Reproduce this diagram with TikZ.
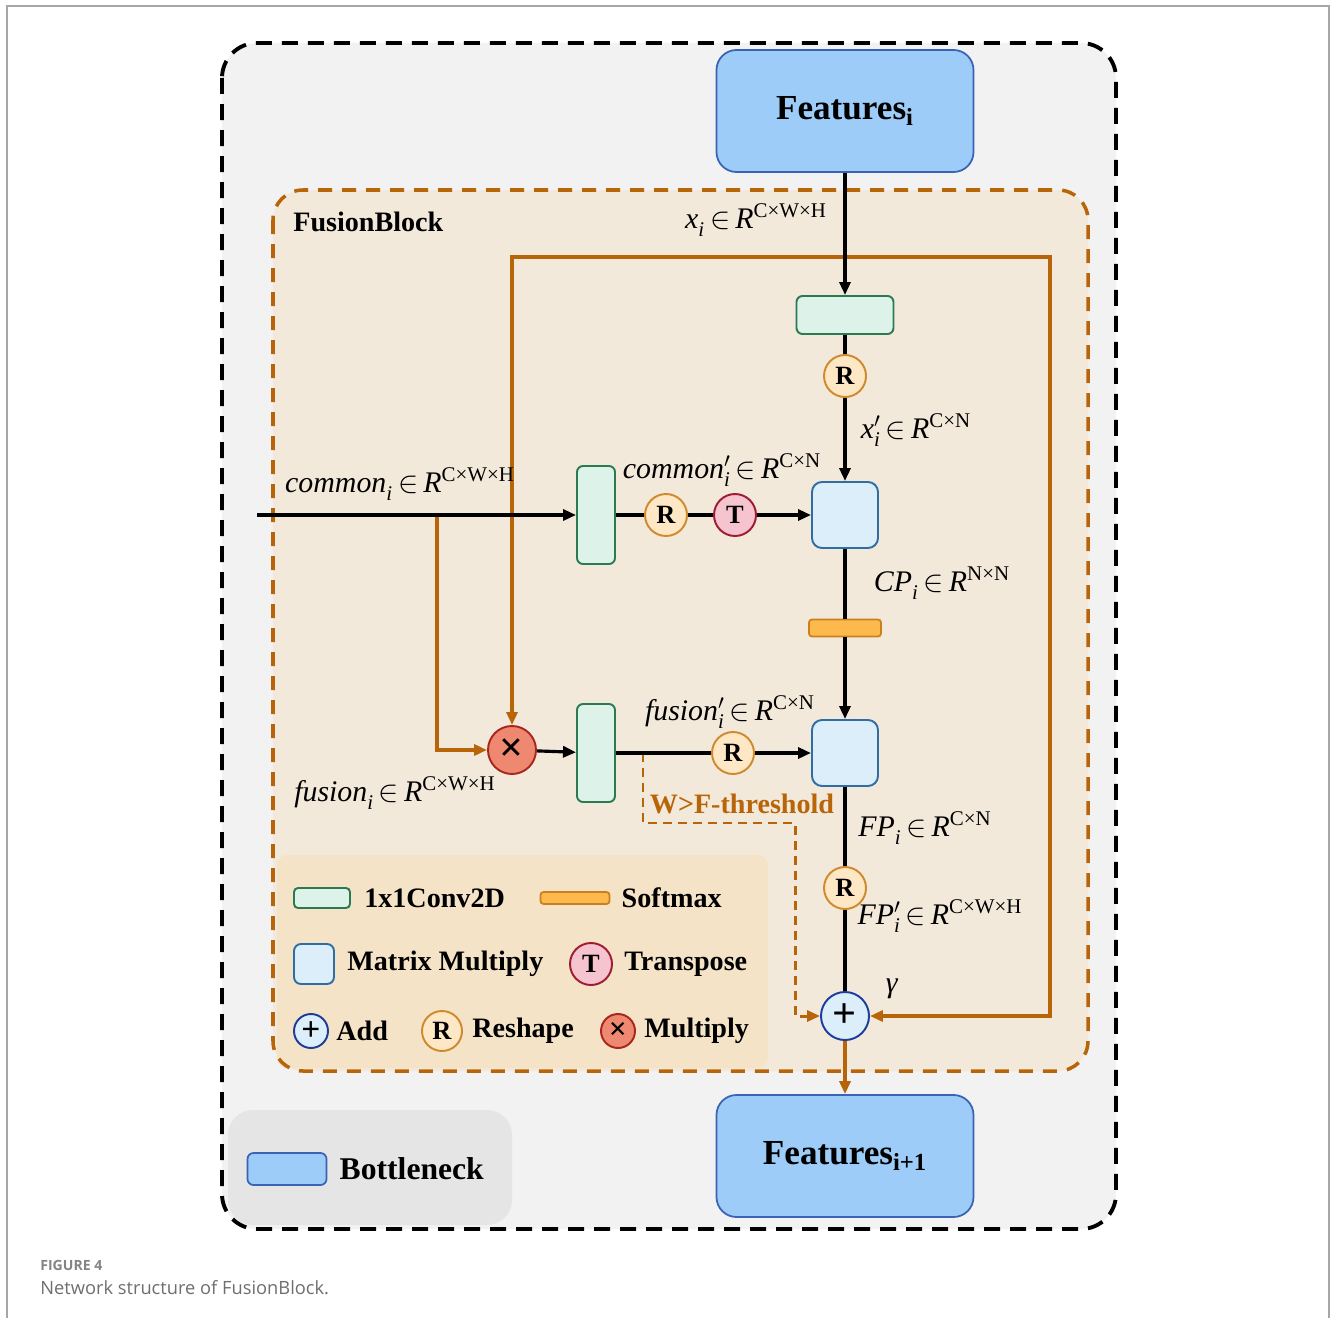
\documentclass[tikz,border=0pt]{standalone}
\usepackage{amsmath}
\usepackage{fontspec}
\setmainfont{Liberation Serif}
\newfontfamily\capfont{Open Sans}
\usepackage{tikz}
\usetikzlibrary{arrows.meta, positioning, calc}

\definecolor{fondgris}{HTML}{F2F2F2}
\definecolor{fondbloc}{HTML}{F3E9DA}
\definecolor{fondleg}{HTML}{F5E3C8}
\definecolor{lignor}{HTML}{B8650A}
\definecolor{featbl}{HTML}{9DCCF8}
\definecolor{featbd}{HTML}{3B63B5}
\definecolor{convgr}{HTML}{DDF3E9}
\definecolor{convbd}{HTML}{2B7A52}
\definecolor{mmbl}{HTML}{DCEEFA}
\definecolor{mmbd}{HTML}{2E6EA5}
\definecolor{softor}{HTML}{FDB94C}
\definecolor{softbd}{HTML}{C9801F}
\definecolor{rfill}{HTML}{FEE7C5}
\definecolor{rbd}{HTML}{CF8A2E}
\definecolor{tfill}{HTML}{F6C4CF}
\definecolor{tbd}{HTML}{9E1B32}
\definecolor{xfill}{HTML}{EE8870}
\definecolor{xbd}{HTML}{A8261B}
\definecolor{addbd}{HTML}{1B3C9C}
\definecolor{capgris}{HTML}{6E6E6E}

\newcommand{\dimlab}[3]{\textit{#1}\ensuremath{^{#2}_{\textit{i}}}\,\ensuremath{\in}\,\textit{R}\ensuremath{^{\text{#3}}}}

\begin{document}
\begin{tikzpicture}[x=0.2mm, y=-0.2mm,
  fleche/.style={line width=1.8pt, -{Triangle[length=2.6mm,width=2.2mm]}},
  trait/.style={line width=1.8pt},
  orfleche/.style={line width=2pt, draw=lignor, -{Triangle[length=2.6mm,width=2.2mm]}},
  feat/.style={draw=featbd, fill=featbl, line width=1pt, rounded corners=4mm, minimum width=51.4mm, minimum height=24.4mm, font=\bfseries\fontsize{20}{24}\selectfont},
  conv/.style={draw=convbd, fill=convgr, line width=1.1pt, rounded corners=1.2mm, inner sep=0pt},
  matmul/.style={draw=mmbd, fill=mmbl, line width=1.1pt, rounded corners=2mm, minimum size=13.2mm, inner sep=0pt},
  soft/.style={draw=softbd, fill=softor, line width=1pt, rounded corners=0.6mm, minimum width=14.4mm, minimum height=3.4mm, inner sep=0pt},
  opr/.style={circle, draw=rbd, fill=rfill, line width=1.1pt, minimum size=8.4mm, inner sep=0pt, font=\bfseries\fontsize{15}{15}\selectfont},
  opt/.style={opr, draw=tbd, fill=tfill},
  opx/.style={circle, draw=xbd, fill=xfill, line width=1.1pt, minimum size=9.6mm, inner sep=0pt, font=\bfseries\fontsize{24}{24}\selectfont},
  opadd/.style={opx, draw=addbd, fill=mmbl},
  dimtxt/.style={font=\fontsize{17}{20}\selectfont},
  lgtxt/.style={inner sep=0pt, font=\bfseries\fontsize{16}{19}\selectfont},
]
  \useasboundingbox (0,0) rectangle (1332,1318);

  % Cadre et fond général
  \draw[gray!70, line width=0.6pt] (7,1318) -- (7,6) -- (1329,6) -- (1329,1318);
  \fill[fondgris, rounded corners=7mm] (222,43) rectangle (1116,1229);
  \fill[black!10, rounded corners=5mm] (228,1110) rectangle (512,1225);
  \draw[line width=2.2pt, dash pattern=on 3.2mm off 2mm, rounded corners=7mm] (222,43) rectangle (1116,1229);

  % Bloc FusionBlock
  \fill[fondbloc, rounded corners=6mm] (273,190) rectangle (1088,1071);
  \fill[fondleg, rounded corners=2mm] (277,855) rectangle (768,1068);
  \draw[lignor, line width=2pt, dash pattern=on 2.8mm off 2mm, rounded corners=6mm] (273,190) rectangle (1088,1071);
  \node[anchor=west, inner sep=0pt, font=\bfseries\fontsize{16}{19}\selectfont] (titre) at (293,222) {FusionBlock};

  % Entrée / sortie
  \node[feat] (fi) at (845,111) {Features\textsubscript{i}};
  \node[feat] (fo) at (845,1156) {Features\textsubscript{i+1}};

  % Branche x_i
  \node[conv, minimum width=19.4mm, minimum height=7.6mm] (cvh) at (845,315) {};
  \node[opr] (rh) at (845,376) {R};
  \node[matmul] (mm1) at (845,515) {};

  % Branche common_i
  \coordinate (cin) at (257,515);
  \coordinate (jc) at (437,515);
  \node[conv, minimum width=7.6mm, minimum height=19.6mm] (cvc) at (596,515) {};
  \node[opr] (rc) at (666,515) {R};
  \node[opt] (tc) at (735,515) {T};

  % Softmax et branche fusion_i
  \node[soft] (sm) at (845,628) {};
  \node[opx] (mul) at (512,750) {×};
  \node[conv, minimum width=7.6mm, minimum height=19.6mm] (cvf) at (596,753) {};
  \node[opr] (rf) at (733,753) {R};
  \node[matmul] (mm2) at (845,753) {};
  \node[opr] (rp) at (845,888) {R};
  \node[opadd] (add) at (845,1016) {+};

  % Liaisons orange
  \coordinate (jx) at (845,257);
  \coordinate (coin) at (1050,1016);
  \coordinate (jw) at (643,753);
  \coordinate (wc) at (795,823);
  \draw[orfleche] (jx) -| (mul);
  \draw[orfleche] (jx) -| (coin) -- (add);
  \draw[orfleche] (jc) |- (mul);
  \draw[orfleche] (add) -- (fo);
  \draw[lignor, line width=1.7pt, dash pattern=on 1.8mm off 1.2mm, -{Triangle[length=2.6mm,width=2.2mm]}] (jw) |- (wc) |- (add);
  \node[text=lignor, font=\bfseries\fontsize{16}{19}\selectfont] (seuil) at (742,804) {W>F-threshold};

  % Liaisons noires
  \draw[fleche] (fi) -- (cvh);
  \draw[trait] (cvh) -- (rh);
  \draw[fleche] (rh) -- (mm1);
  \draw[fleche] (cin) -- (cvc);
  \draw[trait] (cvc) -- (rc) -- (tc);
  \draw[fleche] (tc) -- (mm1);
  \draw[trait] (mm1) -- (sm);
  \draw[fleche] (sm) -- (mm2);
  \draw[fleche] (mul) -- (cvf);
  \draw[trait] (cvf) -- (rf);
  \draw[fleche] (rf) -- (mm2);
  \draw[trait] (mm2) -- (rp) -- (add);

  % Dimensions
  \node[dimtxt] (lxi) at (756,220) {\dimlab{x}{}{C×W×H}};
  \node[dimtxt] (lxp) at (916,430) {\dimlab{x}{\prime}{C×N}};
  \node[dimtxt] (lco) at (400,484) {\dimlab{common}{}{C×W×H}};
  \node[dimtxt] (lcp) at (722,470) {\dimlab{common}{\prime}{C×N}};
  \node[dimtxt] (lcpi) at (942,583) {\dimlab{CP}{}{N×N}};
  \node[dimtxt] (lfp) at (730,712) {\dimlab{fusion}{\prime}{C×N}};
  \node[dimtxt] (lfu) at (395,793) {\dimlab{fusion}{}{C×W×H}};
  \node[dimtxt] (lfpi) at (925,828) {\dimlab{FP}{}{C×N}};
  \node[dimtxt] (lfpp) at (940,916) {\dimlab{FP}{\prime}{C×W×H}};
  \node[dimtxt] (lgam) at (892,989) {\textit{γ}};

  % Légende
  \node[conv, minimum width=11.2mm, minimum height=4mm, rounded corners=0.8mm] (lgconv) at (322,898) {};
  \node[lgtxt, right=2.6mm of lgconv] (lgconvt) {1x1Conv2D};
  \node[soft, minimum width=13.8mm, minimum height=2.4mm] (lgsoft) at (575,898) {};
  \node[lgtxt, right=2.2mm of lgsoft] (lgsoftt) {Softmax};
  \node[matmul, minimum size=8mm, rounded corners=1.4mm] (lgmm) at (314,964) {};
  \node[lgtxt, right=2.4mm of lgmm] (lgmmt) {Matrix Multiply};
  \node[opt] (lgt) at (591,964) {T};
  \node[lgtxt, right=2.2mm of lgt] (lgtt) {Transpose};
  \node[opadd, minimum size=6.8mm, font=\bfseries\fontsize{19}{19}\selectfont] (lgadd) at (311,1031) {+};
  \node[lgtxt, right=1.4mm of lgadd] (lgaddt) {Add};
  \node[opr, minimum size=8mm] (lgr) at (442,1031) {R};
  \node[lgtxt, right=1.8mm of lgr] (lgrt) {Reshape};
  \node[opx, minimum size=6.8mm, font=\bfseries\fontsize{18}{18}\selectfont] (lgx) at (618,1031) {×};
  \node[lgtxt, right=1.6mm of lgx] (lgxt) {Multiply};

  % Légende Bottleneck
  \node[draw=featbd, fill=featbl, line width=1pt, rounded corners=1.2mm, minimum width=15.8mm, minimum height=6.4mm, inner sep=0pt] (lgbn) at (287,1169) {};
  \node[lgtxt, right=2.4mm of lgbn, font=\bfseries\fontsize{18}{21}\selectfont] (lgbnt) {Bottleneck};

  % Légende de la figure
  \node[anchor=west, inner sep=0pt, text=capgris!85, font=\capfont\bfseries\fontsize{8}{9}\selectfont] (fig) at (40,1265) {FIGURE 4};
  \node[anchor=west, inner sep=0pt, text=capgris, font=\capfont\fontsize{10.4}{12}\selectfont] (cap) at (40,1288) {Network structure of FusionBlock.};
\end{tikzpicture}
\end{document}
